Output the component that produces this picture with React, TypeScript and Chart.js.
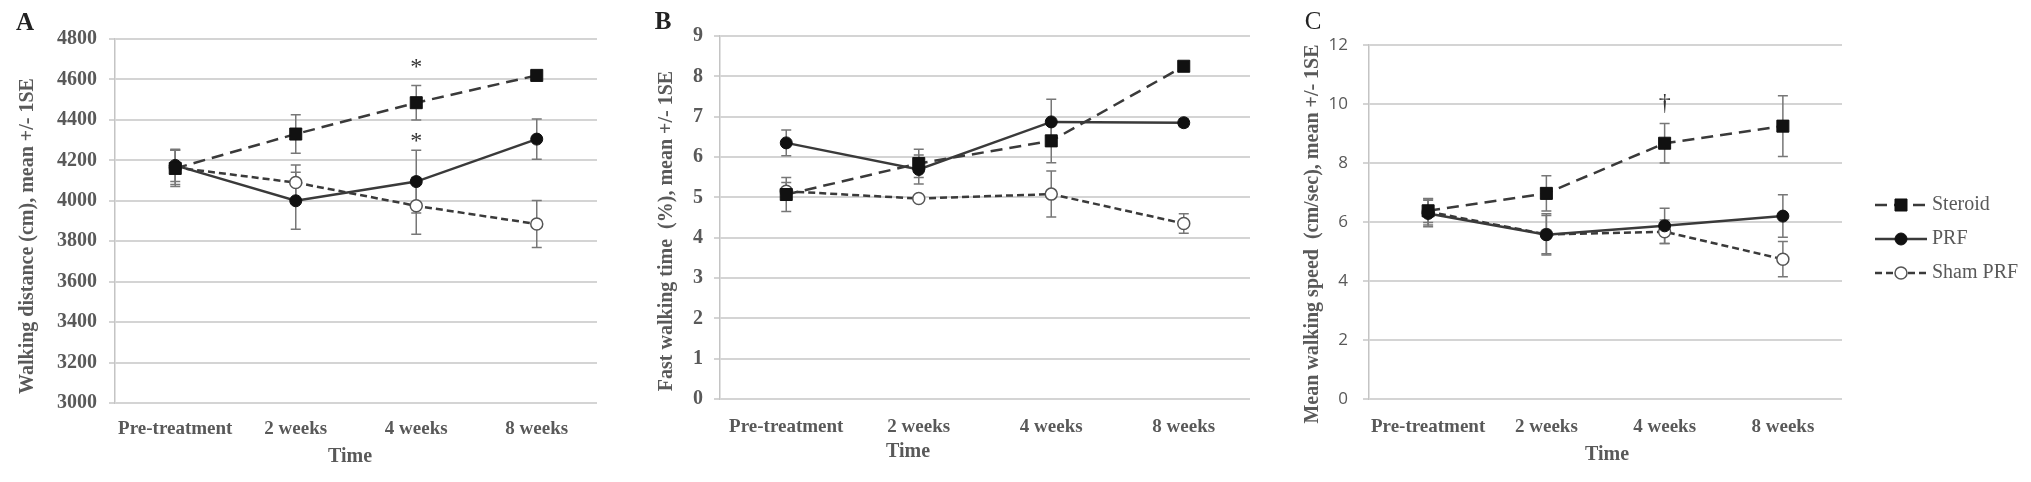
import React, { useEffect, useRef } from "react";
import { Chart, registerables } from "chart.js";

Chart.register(...registerables);

const SERIF = "'Liberation Serif', 'Times New Roman', Times, serif";
const SANS = "'Open Sans', 'Liberation Sans', Arial, sans-serif";
const TEXT = "#595959";
const LINE = "#3a3a3a";

// ---------- data ----------
const categories = ["Pre-treatment", "2 weeks", "4 weeks", "8 weeks"];
const seriesNames = ["Steroid", "PRF", "Sham PRF"];

// Panel A: walking distance (cm)
const yTicksA = [3000, 3200, 3400, 3600, 3800, 4000, 4200, 4400, 4600, 4800];
const steroidA = [4160, 4330, 4485, 4620];
const steroidSeA = [90, 95, 85, 10];
const prfA = [4175, 4000, 4095, 4305];
const prfSeA = [80, 141, 155, 100];
const shamA = [4165, 4090, 3975, 3885];
const shamSeA = [85, 87, 140, 116];
const marksA = [
  { index: 2, value: 4681, text: "*" },
  { index: 2, value: 4312, text: "*" },
];

// Panel B: fast walking time (%)
const yTicksB = [0, 1, 2, 3, 4, 5, 6, 7, 8, 9];
const steroidB = [5.07, 5.84, 6.4, 8.25];
const steroidSeB = [0.42, 0.35, 0.54, 0.08];
const prfB = [6.35, 5.69, 6.87, 6.85];
const prfSeB = [0.32, 0.36, 0.56, 0.1];
const shamB = [5.15, 4.97, 5.08, 4.35];
const shamSeB = [0.22, 0.05, 0.57, 0.24];
const marksB: { index: number; value: number; text: string }[] = [];

// Panel C: mean walking speed (cm/sec)
const yTicksC = [0, 2, 4, 6, 8, 10, 12];
const steroidC = [6.38, 6.97, 8.67, 9.25];
const steroidSeC = [0.4, 0.6, 0.67, 1.03];
const prfC = [6.29, 5.57, 5.87, 6.2];
const prfSeC = [0.45, 0.65, 0.6, 0.72];
const shamC = [6.35, 5.58, 5.67, 4.74];
const shamSeC = [0.45, 0.7, 0.4, 0.6];
const marksC = [{ index: 2, value: 10.02, text: "\u2020" }];

// ---------- layout (not data) ----------
const H = 482;
const PANELS = [
  {
    letter: "A", letterWeight: "bold", left: 0, width: 640,
    area: { left: 115, right: 597, top: 39, bottom: 403 },
    yTicks: yTicksA, series: [steroidA, prfA, shamA], se: [steroidSeA, prfSeA, shamSeA], marks: marksA,
    yTitle: "Walking distance (cm), mean +/- 1SE",
    letterPos: [25, 24], yTitlePos: [28, 236], xTitlePos: [350, 457],
    tickFont: { family: SERIF, size: 20, weight: "bold" }, tickPad: 12, xPad: 7, legend: false,
  },
  {
    letter: "B", letterWeight: "bold", left: 640, width: 650,
    area: { left: 80, right: 610, top: 36, bottom: 399 },
    yTicks: yTicksB, series: [steroidB, prfB, shamB], se: [steroidSeB, prfSeB, shamSeB], marks: marksB,
    yTitle: "Fast walking time  (%), mean +/- 1SE",
    letterPos: [23, 23], yTitlePos: [27, 231], xTitlePos: [268, 452],
    tickFont: { family: SERIF, size: 20, weight: "bold" }, tickPad: 11, xPad: 9, legend: false,
  },
  {
    letter: "C", letterWeight: "normal", left: 1290, width: 741,
    area: { left: 79, right: 552, top: 45, bottom: 399 },
    yTicks: yTicksC, series: [steroidC, prfC, shamC], se: [steroidSeC, prfSeC, shamSeC], marks: marksC,
    yTitle: "Mean walking speed  (cm/sec), mean +/- 1SE",
    letterPos: [23, 22], yTitlePos: [23, 234], xTitlePos: [317, 455],
    tickFont: { family: SANS, size: 17 }, tickPad: 15, xPad: 9, legend: true,
  },
];

// ---------- plugins ----------
const errorBarPlugin = {
  id: "errorBars",
  beforeDatasetsDraw(chart: any) {
    const { ctx } = chart;
    const ys = chart.scales.y;
    ctx.save();
    ctx.strokeStyle = "#777";
    ctx.lineWidth = 1.5;
    chart.data.datasets.forEach((ds: any, i: number) => {
      const meta = chart.getDatasetMeta(i);
      meta.data.forEach((pt: any, j: number) => {
        const v = ds.data[j];
        const e = ds.se[j];
        const yt = ys.getPixelForValue(v + e);
        const yb = ys.getPixelForValue(v - e);
        const x = pt.x;
        ctx.beginPath();
        ctx.moveTo(x, yt); ctx.lineTo(x, yb);
        ctx.moveTo(x - 5, yt); ctx.lineTo(x + 5, yt);
        ctx.moveTo(x - 5, yb); ctx.lineTo(x + 5, yb);
        ctx.stroke();
      });
    });
    ctx.restore();
  },
};

const marksPlugin = {
  id: "marks",
  afterDatasetsDraw(chart: any, _a: any, opts: any) {
    const items = (opts && opts.items) || [];
    const { ctx } = chart;
    ctx.save();
    ctx.fillStyle = "#333";
    ctx.font = `24px ${SERIF}`;
    ctx.textAlign = "center";
    ctx.textBaseline = "alphabetic";
    for (const m of items) {
      const x = chart.scales.x.getPixelForValue(m.index);
      const y = chart.scales.y.getPixelForValue(m.value);
      const tm = ctx.measureText(m.text);
      ctx.fillText(m.text, x, y + (tm.actualBoundingBoxAscent - tm.actualBoundingBoxDescent) / 2);
    }
    ctx.restore();
  },
};

const panelTextPlugin = {
  id: "panelText",
  afterDraw(chart: any, _a: any, o: any) {
    const { ctx } = chart;
    ctx.save();
    ctx.textAlign = "center";
    ctx.textBaseline = "middle";
    ctx.fillStyle = "#222";
    ctx.font = `${o.letterWeight} 25px ${SERIF}`;
    ctx.fillText(o.letter, o.letterPos[0], o.letterPos[1]);
    ctx.fillStyle = TEXT;
    ctx.font = `bold 20px ${SERIF}`;
    ctx.fillText(o.xTitle, o.xTitlePos[0], o.xTitlePos[1]);
    ctx.translate(o.yTitlePos[0], o.yTitlePos[1]);
    ctx.rotate(-Math.PI / 2);
    ctx.fillText(o.yTitle, 0, 0);
    ctx.restore();
  },
};

const sideLegendPlugin = {
  id: "sideLegend",
  afterDraw(chart: any, _a: any, o: any) {
    if (!o || !o.display) return;
    const { ctx, chartArea } = chart;
    chart.data.datasets.forEach((ds: any, i: number) => {
      const y = o.top + i * o.gap;
      const x0 = chartArea.right + o.offset;
      const x1 = x0 + o.sample;
      const xm = (x0 + x1) / 2;
      ctx.save();
      ctx.strokeStyle = ds.borderColor;
      ctx.lineWidth = ds.borderWidth;
      ctx.setLineDash(ds.borderDash || []);
      ctx.beginPath();
      ctx.moveTo(x0, y); ctx.lineTo(x1, y);
      ctx.stroke();
      ctx.setLineDash([]);
      ctx.fillStyle = ds.pointBackgroundColor;
      ctx.strokeStyle = ds.pointBorderColor;
      ctx.lineWidth = ds.pointBorderWidth;
      ctx.beginPath();
      if (ds.pointStyle === "rect") {
        const s = ds.pointRadius * Math.SQRT1_2;
        ctx.rect(xm - s, y - s, 2 * s, 2 * s);
      } else {
        ctx.arc(xm, y, ds.pointRadius, 0, Math.PI * 2);
      }
      ctx.fill();
      ctx.stroke();
      ctx.fillStyle = TEXT;
      ctx.font = `20px ${SERIF}`;
      ctx.textAlign = "left";
      ctx.textBaseline = "middle";
      ctx.fillText(ds.label, x1 + 5, y);
      ctx.restore();
    });
  },
};

function makeConfig(p: any): any {
  const [s0, s1, s2] = p.series;
  const [e0, e1, e2] = p.se;
  const datasets = [
    {
      label: seriesNames[0], data: s0, se: e0,
      borderColor: LINE, borderWidth: 2.5, borderDash: [12, 7],
      pointStyle: "rect", pointRadius: 8.5,
      pointBackgroundColor: "#111", pointBorderColor: "#111", pointBorderWidth: 1,
    },
    {
      label: seriesNames[1], data: s1, se: e1,
      borderColor: LINE, borderWidth: 2.5, borderDash: [],
      pointStyle: "circle", pointRadius: 6,
      pointBackgroundColor: "#111", pointBorderColor: "#111", pointBorderWidth: 1,
    },
    {
      label: seriesNames[2], data: s2, se: e2,
      borderColor: LINE, borderWidth: 2.5, borderDash: [7, 4],
      pointStyle: "circle", pointRadius: 6,
      pointBackgroundColor: "#fff", pointBorderColor: "#555", pointBorderWidth: 1.5,
    },
  ].map((d) => ({ ...d, fill: false, tension: 0, pointHoverRadius: d.pointRadius }));

  const yMin = p.yTicks[0];
  const yMax = p.yTicks[p.yTicks.length - 1];

  return {
    type: "line",
    data: { labels: categories, datasets },
    plugins: [errorBarPlugin, marksPlugin, panelTextPlugin, sideLegendPlugin],
    options: {
      responsive: false,
      animation: false,
      layout: { padding: { top: p.area.top, right: p.width - p.area.right, left: 0, bottom: 0 } },
      plugins: {
        legend: { display: false },
        tooltip: { enabled: false },
        marks: { items: p.marks },
        panelText: {
          letter: p.letter, letterWeight: p.letterWeight, letterPos: p.letterPos,
          xTitle: "Time", xTitlePos: p.xTitlePos,
          yTitle: p.yTitle, yTitlePos: p.yTitlePos,
        },
        sideLegend: { display: p.legend, top: 205, gap: 34, offset: 33, sample: 52 },
      },
      scales: {
        x: {
          type: "category",
          offset: true,
          grid: { display: false },
          border: { display: false },
          ticks: {
            font: { family: SERIF, size: 19, weight: "bold" }, color: TEXT,
            padding: p.xPad, maxRotation: 0, autoSkip: false,
          },
          afterFit: (s: any) => { s.height = H - p.area.bottom; },
        },
        y: {
          min: yMin,
          max: yMax,
          afterBuildTicks: (s: any) => { s.ticks = p.yTicks.map((v: number) => ({ value: v })); },
          grid: { color: "#d4d4d4", lineWidth: 2, tickLength: 6, drawTicks: true },
          border: { display: true, color: "#c4c4c4", width: 1.5 },
          ticks: {
            font: p.tickFont, color: TEXT, padding: p.tickPad,
            callback: (v: any) => String(v),
          },
          afterFit: (s: any) => { s.width = p.area.left; },
        },
      },
    },
  };
}

function Panel({ panel }: { panel: any }) {
  const ref = useRef<HTMLCanvasElement | null>(null);
  useEffect(() => {
    if (!ref.current) return;
    const chart = new Chart(ref.current, makeConfig(panel));
    return () => chart.destroy();
  }, [panel]);
  return (
    <canvas
      ref={ref}
      width={panel.width}
      height={H}
      style={{ position: "absolute", left: panel.left, top: 0, width: panel.width, height: H }}
    />
  );
}

export default function App() {
  return (
    <div style={{ position: "absolute", left: 0, top: 0, width: 2031, height: H, background: "#fff" }}>
      {PANELS.map((p) => (
        <Panel key={p.letter} panel={p} />
      ))}
    </div>
  );
}
